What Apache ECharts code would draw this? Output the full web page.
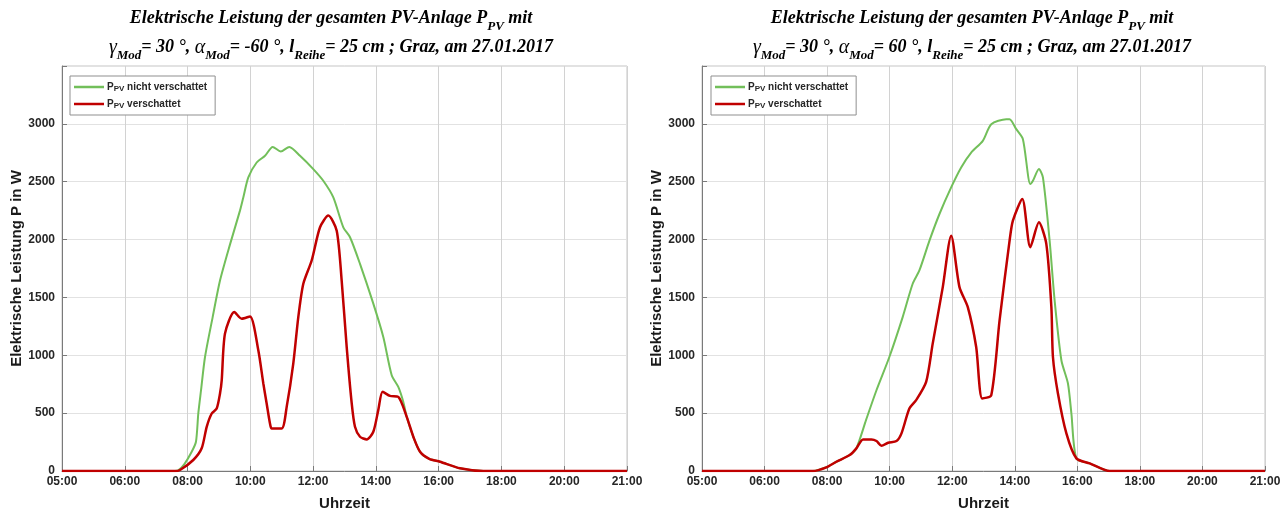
<!DOCTYPE html>
<html>
<head>
<meta charset="utf-8">
<script src="https://cdn.jsdelivr.net/npm/echarts@6/dist/echarts.min.js"></script>
<style>
  html, body { margin: 0; padding: 0; background: #ffffff; }
  #chart { width: 1288px; height: 511px; }
</style>
</head>
<body>
<div id="chart"></div>
<script>
// Time axis: one unit = one tick step; these are the tick labels in order
const tickLabels = ['05:00', '06:00', '08:00', '10:00', '12:00', '14:00', '16:00', '18:00', '20:00', '21:00'];

// [axis position, power in W] — alpha_Mod = -60 °
const leftUnshaded = [
  [0, 0], [1.80, 0], [1.853, 5], [1.95, 60], [2.066, 166], [2.134, 253], [2.171, 497], [2.215, 700],
  [2.278, 985], [2.40, 1330], [2.517, 1646], [2.68, 1965], [2.835, 2250], [2.888, 2364],
  [2.968, 2537], [3.101, 2666], [3.234, 2724], [3.356, 2801], [3.484, 2761], [3.621, 2801],
  [3.791, 2724], [4.003, 2609], [4.162, 2508], [4.322, 2364], [4.481, 2106], [4.588, 2020],
  [4.747, 1790], [4.959, 1446], [5.118, 1158], [5.252, 828], [5.357, 727], [5.437, 597],
  [5.491, 468], [5.60, 290], [5.703, 166], [5.85, 105], [6.021, 80], [6.34, 23], [6.711, 0], [9, 0]
];
const leftShaded = [
  [0, 0], [1.80, 0], [1.880, 9], [2.091, 95], [2.225, 196], [2.305, 382], [2.385, 497],
  [2.464, 540], [2.517, 670], [2.544, 784], [2.596, 1187], [2.745, 1373], [2.862, 1316],
  [2.995, 1336], [3.127, 1043], [3.207, 756], [3.260, 584], [3.313, 411], [3.34, 368],
  [3.50, 368], [3.579, 554], [3.684, 928], [3.764, 1330], [3.844, 1618], [3.977, 1819],
  [4.110, 2106], [4.242, 2207], [4.376, 2077], [4.455, 1646], [4.535, 1071], [4.615, 584],
  [4.667, 382], [4.747, 296], [4.854, 273], [4.959, 339], [5.038, 526], [5.108, 684],
  [5.225, 649], [5.357, 640], [5.491, 468], [5.60, 290], [5.703, 166], [5.85, 105],
  [6.021, 80], [6.34, 23], [6.711, 0], [9, 0]
];

// [axis position, power in W] — alpha_Mod = 60 °
const rightUnshaded = [
  [0, 0], [1.70, 0], [1.773, 0], [1.988, 32], [2.148, 80], [2.361, 138], [2.468, 196],
  [2.622, 440], [2.789, 698], [2.995, 985], [3.208, 1330], [3.368, 1618], [3.475, 1733],
  [3.636, 1991], [3.796, 2221], [3.983, 2451], [4.143, 2623], [4.303, 2752], [4.489, 2853],
  [4.624, 2997], [4.864, 3040], [4.917, 3040], [5.024, 2954], [5.130, 2868], [5.248, 2480],
  [5.290, 2508], [5.386, 2609], [5.450, 2537], [5.557, 1991], [5.637, 1474], [5.745, 957],
  [5.850, 756], [5.905, 497], [5.985, 109], [6.198, 66], [6.518, 0], [9, 0]
];
const rightShaded = [
  [0, 0], [1.70, 0], [1.773, 0], [1.988, 32], [2.148, 80], [2.361, 138], [2.468, 196],
  [2.574, 273], [2.709, 273], [2.789, 259], [2.869, 218], [2.975, 244], [3.109, 259],
  [3.189, 325], [3.315, 540], [3.423, 612], [3.583, 770], [3.688, 1101], [3.849, 1589],
  [3.983, 2034], [4.116, 1589], [4.249, 1416], [4.383, 1071], [4.480, 627], [4.624, 655],
  [4.757, 1302], [4.917, 1991], [4.970, 2164], [5.120, 2351], [5.248, 1934], [5.386, 2149],
  [5.504, 1963], [5.585, 1416], [5.610, 985], [5.690, 670], [5.825, 325], [5.985, 109],
  [6.198, 66], [6.518, 0], [9, 0]
];

const seriesNames = ['nicht verschattet', 'verschattet'];
const colorUnshaded = '#72bf5a';
const colorShaded = '#c00000';

const SANS = '"Liberation Sans", Arial, sans-serif';
const SERIF = '"Liberation Serif", "Times New Roman", serif';

const titleRich = {
  sub: { fontFamily: SERIF, fontSize: 13, fontWeight: 'bold', fontStyle: 'italic', lineHeight: 15, verticalAlign: 'bottom', color: '#000' },
  g: { fontFamily: SERIF, fontSize: 20, fontWeight: 'normal', fontStyle: 'italic', lineHeight: 29, color: '#000' }
};

function makeTitle(alpha, centerX) {
  return {
    text: 'Elektrische Leistung der gesamten PV-Anlage P{sub|PV} mit\n' +
          '{g|γ}{sub|Mod}= 30 °, {g|α}{sub|Mod}= ' + alpha + ' °, l{sub|Reihe}= 25 cm ; Graz, am 27.01.2017',
    left: centerX,
    top: 4,
    padding: 0,
    textAlign: 'center',
    textStyle: {
      fontFamily: SERIF, fontSize: 18, fontWeight: 'bold', fontStyle: 'italic',
      lineHeight: 29, color: '#000', rich: titleRich
    }
  };
}

function makeLegend(left) {
  return {
    data: seriesNames.map(n => ({ name: n, icon: 'rect' })),
    left: left,
    top: 76,
    orient: 'vertical',
    padding: [5, 8, 5, 4],
    itemGap: 5,
    itemWidth: 30,
    itemHeight: 2.5,
    backgroundColor: '#ffffff',
    borderColor: '#8f8f8f',
    borderWidth: 1,
    borderRadius: 0,
    selectedMode: false,
    formatter: name => 'P{sub|PV} ' + name,
    textStyle: {
      fontFamily: SANS, fontSize: 10, fontWeight: 'bold', color: '#262626', lineHeight: 12,
      padding: [0, 0, 0, -2],
      rich: {
        sub: { fontFamily: SANS, fontSize: 8, fontWeight: 'bold', color: '#262626', lineHeight: 9, verticalAlign: 'bottom' }
      }
    }
  };
}

function makeXAxis(gridIndex) {
  return {
    type: 'value', gridIndex: gridIndex, min: 0, max: 9, interval: 1,
    name: 'Uhrzeit', nameLocation: 'middle', nameGap: 25,
    nameTextStyle: { fontFamily: SANS, fontSize: 15, fontWeight: 'bold', color: '#1a1a1a' },
    axisLine: { show: true, onZero: false, lineStyle: { color: '#7a7a7a', width: 1 } },
    axisTick: { show: true, inside: true, length: 5, lineStyle: { color: '#7a7a7a' } },
    axisLabel: {
      margin: 5, fontFamily: SANS, fontSize: 12, fontWeight: 'bold', color: '#262626',
      showMinLabel: true, showMaxLabel: true,
      formatter: v => tickLabels[Math.round(v)]
    },
    splitLine: { show: true, lineStyle: { color: '#d2d2d2', width: 1 } }
  };
}

function makeYAxis(gridIndex) {
  return {
    type: 'value', gridIndex: gridIndex, min: 0, max: 3500, interval: 500,
    name: 'Elektrische Leistung P in W', nameLocation: 'middle', nameGap: 37, nameRotate: 90,
    nameTextStyle: { fontFamily: SANS, fontSize: 15, fontWeight: 'bold', color: '#1a1a1a' },
    axisLine: { show: true, lineStyle: { color: '#7a7a7a', width: 1 } },
    axisTick: { show: true, inside: true, length: 5, lineStyle: { color: '#7a7a7a' } },
    axisLabel: {
      margin: 7, fontFamily: SANS, fontSize: 12, fontWeight: 'bold', color: '#262626',
      formatter: v => (v > 3000 ? '' : String(v))
    },
    splitLine: { show: true, lineStyle: { color: '#e2e2e2', width: 1 } }
  };
}

function makeSeries(name, data, color, width, axisIndex, z) {
  return {
    name: name, type: 'line', data: data,
    xAxisIndex: axisIndex, yAxisIndex: axisIndex,
    showSymbol: false, symbol: 'none', smooth: 0.25, z: z,
    lineStyle: { color: color, width: width },
    itemStyle: { color: color },
    emphasis: { disabled: true },
    animation: false
  };
}

const gridBase = { top: 66, height: 405, show: true, borderColor: '#c4c4c4', borderWidth: 1,
  backgroundColor: 'transparent', containLabel: false, outerBoundsMode: 'none' };

const chart = echarts.init(document.getElementById('chart'), null, { renderer: 'canvas' });
chart.setOption({
  animation: false,
  backgroundColor: '#ffffff',
  title: [makeTitle('-60', 331), makeTitle('60', 972)],
  legend: [makeLegend(70), makeLegend(711)],
  grid: [
    Object.assign({ left: 62, width: 565 }, gridBase),
    Object.assign({ left: 702, width: 563 }, gridBase)
  ],
  xAxis: [makeXAxis(0), makeXAxis(1)],
  yAxis: [makeYAxis(0), makeYAxis(1)],
  series: [
    makeSeries(seriesNames[0], leftUnshaded, colorUnshaded, 2, 0, 2),
    makeSeries(seriesNames[1], leftShaded, colorShaded, 2.5, 0, 3),
    makeSeries(seriesNames[0], rightUnshaded, colorUnshaded, 2, 1, 2),
    makeSeries(seriesNames[1], rightShaded, colorShaded, 2.5, 1, 3)
  ]
});
</script>
</body>
</html>
